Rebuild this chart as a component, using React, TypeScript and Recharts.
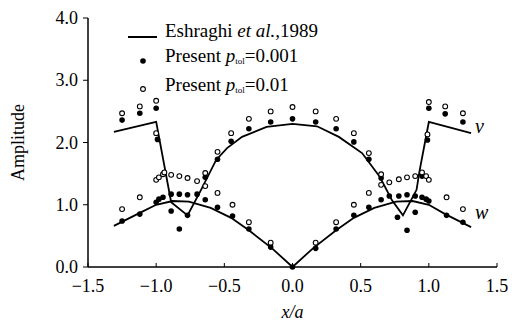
import { ScatterChart, Scatter, XAxis, YAxis, ReferenceDot } from "recharts";

// Eshraghi et al. 1989 curves
const vLineX = [-1.31, -1.0, -0.89, -0.77, -0.68, -0.56, -0.48, -0.37, -0.19, 0, 0.18, 0.34, 0.51, 0.64, 0.73, 0.81, 0.91, 0.93, 1.0, 1.31];
const vLineY = [2.17, 2.33, 1.04, 0.83, 1.2, 1.72, 1.91, 2.09, 2.25, 2.3, 2.26, 2.09, 1.83, 1.45, 1.07, 0.83, 1.24, 1.52, 2.33, 2.15];
const wLineX = [-1.31, -1.12, -1.0, -0.88, -0.76, -0.6, -0.45, -0.32, -0.15, 0, 0.15, 0.32, 0.45, 0.6, 0.76, 0.88, 1.0, 1.12, 1.31];
const wLineY = [0.66, 0.87, 1.0, 1.06, 1.05, 0.95, 0.79, 0.59, 0.3, 0, 0.3, 0.59, 0.79, 0.95, 1.05, 1.06, 1.0, 0.85, 0.64];

// present, p_tol = 0.001 (filled)
const fineX = [-1.25, -1.12, -1.0, -0.99, -1.25, -1.12, -1.0, -0.98, -0.95, -0.89, -0.83, -0.77, -0.7, -0.64, -0.64, -0.55, -0.55, -0.89, -0.77, -0.83, -0.45, -0.32, -0.16, 0, 0.17, 0.32, 0.45, 0.56, -0.44, -0.32, -0.16, 0, 0.17, 0.32, 0.45, 0.56, 0.65, 0.65, 0.71, 0.78, 0.84, 0.9, 0.95, 0.98, 1.0, 0.77, 0.9, 0.84, 1.13, 1.25, 0.95, 0.99, 1.0, 1.12, 1.25];
const fineY = [2.36, 2.47, 2.55, 2.05, 0.74, 0.85, 1.04, 1.09, 1.12, 1.17, 1.17, 1.16, 1.17, 1.08, 1.44, 1.73, 0.96, 0.9, 0.83, 0.61, 2.02, 2.22, 2.33, 2.38, 2.33, 2.22, 2.01, 1.73, 0.82, 0.61, 0.32, 0, 0.3, 0.61, 0.83, 0.96, 1.43, 1.08, 1.14, 1.14, 1.16, 1.14, 1.12, 1.09, 1.06, 0.8, 0.88, 0.59, 0.83, 0.72, 1.46, 2.04, 2.55, 2.46, 2.33];

// present, p_tol = 0.01 (open)
const coarseX = [-1.25, -1.12, -1.0, -1.0, -1.25, -1.12, -1.0, -0.98, -0.95, -0.94, -0.89, -0.83, -0.77, -0.7, -0.64, -0.64, -0.55, -0.55, -0.45, -0.44, -0.32, -0.32, -0.16, -0.16, 0, 0.17, 0.17, 0.32, 0.32, 0.45, 0.45, 0.56, 0.56, 0.65, 0.65, 0.71, 0.78, 0.84, 0.9, 0.95, 0.98, 1.0, 1.13, 1.25, 0.99, 1.0, 1.12, 1.25];
const coarseY = [2.47, 2.58, 2.67, 2.15, 0.93, 1.12, 1.4, 1.44, 1.49, 1.52, 1.48, 1.46, 1.43, 1.38, 1.51, 1.3, 1.85, 1.19, 2.15, 1.0, 2.38, 0.72, 2.5, 0.39, 2.57, 2.5, 0.39, 2.38, 0.72, 2.15, 1.0, 1.83, 1.19, 1.49, 1.32, 1.36, 1.41, 1.44, 1.46, 1.52, 1.46, 1.4, 1.12, 0.93, 2.13, 2.65, 2.58, 2.47];

const xTicks = [-1.5, -1.0, -0.5, 0, 0.5, 1.0, 1.5];
const yTicks = [0, 1, 2, 3, 4];

const FONT = '"Liberation Serif", "Times New Roman", serif';

const zip = (xs: number[], ys: number[]) => xs.map((x, i) => ({ x, y: ys[i] }));

const vLine = zip(vLineX, vLineY);
const wLine = zip(wLineX, wLineY);
const fine = zip(fineX, fineY);
const coarse = zip(coarseX, coarseY);

const fmt = (v: number) => (v < 0 ? "\u2212" : "") + Math.abs(v).toFixed(1);

const FilledDot = (props: any) => (
  <circle cx={props.cx} cy={props.cy} r={2.8} fill="#000" />
);
const OpenDot = (props: any) => (
  <circle cx={props.cx} cy={props.cy} r={2.4} fill="#fff" stroke="#000" strokeWidth={1.1} />
);
const NoDot = () => <g />;

const XTick = (props: any) => (
  <text
    x={props.x}
    y={props.y + 27}
    textAnchor="middle"
    fontFamily={FONT}
    fontSize={18}
    fill="#000"
  >
    {fmt(props.payload.value)}
  </text>
);

const YTick = (props: any) => (
  <text
    x={props.x - 3}
    y={props.y + 6}
    textAnchor="end"
    fontFamily={FONT}
    fontSize={18}
    fill="#000"
  >
    {fmt(props.payload.value)}
  </text>
);

const Ptol = ({ value }: { value: string }) => (
  <span>
    Present <i>p</i>
    <span style={{ fontSize: 9, verticalAlign: -2 }}>tol</span>={value}
  </span>
);

const LegendBox = () => (
  <div
    style={{
      position: "absolute",
      left: 125,
      top: 19,
      fontFamily: FONT,
      fontSize: 19,
      color: "#000",
      lineHeight: "23px",
    }}
  >
    <div style={{ display: "flex", alignItems: "center", marginBottom: 2 }}>
      <svg width={40} height={23}>
        <line x1={3} y1={18} x2={32} y2={18} stroke="#000" strokeWidth={2} />
      </svg>
      <span>
        Eshraghi <i>et al.</i>,1989
      </span>
    </div>
    <div style={{ display: "flex", alignItems: "center" }}>
      <svg width={40} height={23}>
        <circle cx={18} cy={14} r={2.8} fill="#000" />
      </svg>
      <Ptol value="0.001" />
    </div>
    <div style={{ display: "flex", alignItems: "center" }}>
      <svg width={40} height={23}>
        <circle cx={18} cy={13} r={2.4} fill="#fff" stroke="#000" strokeWidth={1.1} />
      </svg>
      <Ptol value="0.01" />
    </div>
  </div>
);

const curveLabel = (text: string, dy: number) => (props: any) => {
  const { viewBox } = props;
  return (
    <text
      x={viewBox.x + 4}
      y={viewBox.y + dy}
      fontFamily={FONT}
      fontStyle="italic"
      fontSize={20}
      fill="#000"
    >
      {text}
    </text>
  );
};

export default function App() {
  return (
    <div style={{ position: "absolute", left: 0, top: 0, width: 512, height: 328, background: "#fff" }}>
      <ScatterChart
        width={512}
        height={328}
        margin={{ top: 18, right: 15, bottom: 31, left: 0 }}
        style={{ fontFamily: FONT }}
      >
        <XAxis
          type="number"
          dataKey="x"
          domain={[-1.5, 1.5]}
          ticks={xTicks}
          height={30}
          axisLine={{ stroke: "#000", strokeWidth: 1.5 }}
          tickLine={{ stroke: "#000" }}
          tickSize={-4}
          tick={XTick}
          label={(p: any) => (
            <text
              x={p.viewBox.x + p.viewBox.width / 2}
              y={p.viewBox.y + 51}
              textAnchor="middle"
              fontFamily={FONT}
              fontStyle="italic"
              fontSize={18}
              fill="#000"
            >
              x/a
            </text>
          )}
        />
        <YAxis
          type="number"
          dataKey="y"
          domain={[0, 4]}
          ticks={yTicks}
          width={88}
          axisLine={{ stroke: "#000", strokeWidth: 1.5 }}
          tickLine={{ stroke: "#000" }}
          tickSize={5}
          tick={YTick}
          label={(p: any) => (
            <text
              x={18}
              y={p.viewBox.y + p.viewBox.height / 2}
              transform={`rotate(-90, 18, ${p.viewBox.y + p.viewBox.height / 2})`}
              textAnchor="middle"
              dominantBaseline="central"
              fontFamily={FONT}
              fontSize={18}
              fill="#000"
            >
              Amplitude
            </text>
          )}
        />
        <Scatter
          data={vLine}
          line={{ stroke: "#000", strokeWidth: 1.8 }}
          shape={NoDot}
          legendType="none"
          isAnimationActive={false}
        />
        <Scatter
          data={wLine}
          line={{ stroke: "#000", strokeWidth: 1.8 }}
          shape={NoDot}
          legendType="none"
          isAnimationActive={false}
        />
        <Scatter data={fine} shape={FilledDot} isAnimationActive={false} />
        <Scatter data={coarse} shape={OpenDot} isAnimationActive={false} />
        <ReferenceDot x={1.31} y={2.15} r={0} label={curveLabel("v", 0)} />
        <ReferenceDot x={1.31} y={0.64} r={0} label={curveLabel("w", -8)} />
      </ScatterChart>
      <LegendBox />
    </div>
  );
}
